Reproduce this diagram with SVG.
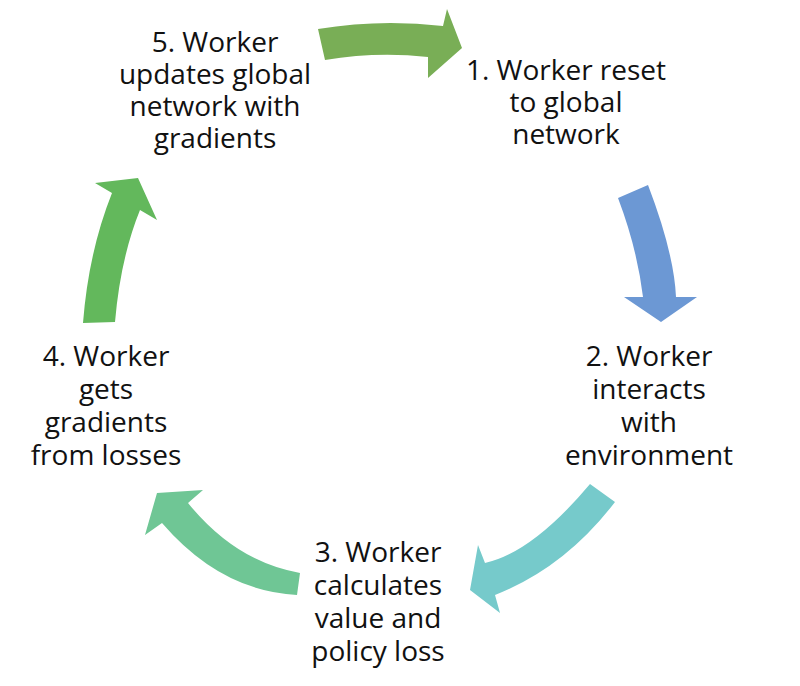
<svg xmlns="http://www.w3.org/2000/svg" width="800" height="686" viewBox="0 0 800 686">
<style>
text{font-family:"Open Sans","Liberation Sans",sans-serif;font-size:28px;fill:#111;text-anchor:middle}
</style>
<rect width="800" height="686" fill="#fff"/>
<g id="connectors">
<path id="a51" fill="#79AE56" d="M318,29 Q380,18.5 443,26 L447,9 L462,48 L428,78 L428,57 Q376,51.5 325,60 Z"/>
<path id="a12" fill="#6C98D4" d="M618,198 L648,185 Q674,253 676,297 L697,297 L661,322 L624,297 L643,297 Q637,248 618,198 Z"/>
<path id="a23" fill="#76CACB" d="M590,484 L615,502 Q565,567.5 495,595 L500,613 L470,590 L478,545 L485,563 Q532.5,552.5 590,484 Z"/>
<path id="a34" fill="#6FC695" d="M157,493 L203,490 L188,503 Q236,562 300,573 L297,595 Q220.5,591 162,523 L145,535 Z"/>
<path id="a45" fill="#63B85C" d="M138,178 L157,220 L140,210 Q120.5,258 115,322 L83,323 Q88.5,252 112,193 L95,183 Z"/>
</g>
<g id="node1"><text x="566" y="80">1. Worker reset</text><text x="566" y="112">to global</text><text x="566" y="144">network</text></g>
<g id="node2"><text x="649" y="366">2. Worker</text><text x="649" y="399">interacts</text><text x="649" y="432">with</text><text x="649" y="465">environment</text></g>
<g id="node3"><text x="378" y="562">3. Worker</text><text x="378" y="595">calculates</text><text x="378" y="628">value and</text><text x="378" y="661">policy loss</text></g>
<g id="node4"><text x="106" y="366">4. Worker</text><text x="106" y="399">gets</text><text x="106" y="432">gradients</text><text x="106" y="465">from losses</text></g>
<g id="node5"><text x="215" y="52">5. Worker</text><text x="215" y="84">updates global</text><text x="215" y="116">network with</text><text x="215" y="148">gradients</text></g>
</svg>
